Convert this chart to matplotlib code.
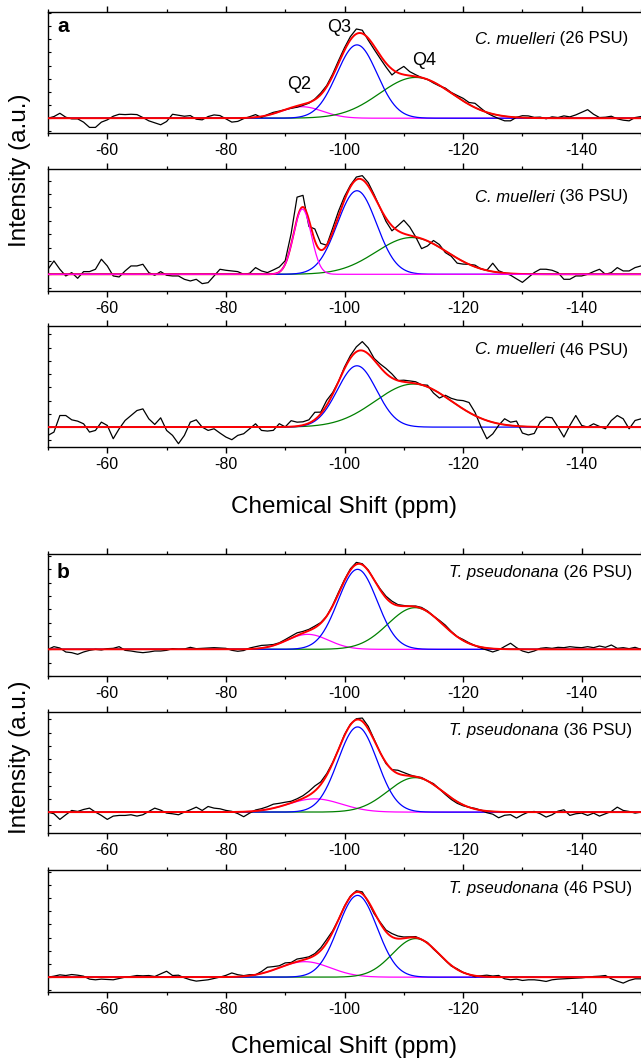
import numpy as np
import matplotlib
matplotlib.use("Agg")
import matplotlib.pyplot as plt
from matplotlib.ticker import MultipleLocator

plt.rcParams['font.family'] = ['Liberation Sans', 'DejaVu Sans']

# ---------------- data ----------------
# chemical shift sampling of the measured spectra (ppm)
ppm = np.arange(-50, -151, -1)

# fitted Gaussian components: [center (ppm), amplitude (a.u.), sigma (ppm)]
a1_q2 = [-92.8, 35, 3.5]
a1_q3 = [-102.1, 223, 3.4]
a1_q4 = [-112.0, 124, 6.1]
a2_q2 = [-92.9, 195, 1.5]
a2_q3 = [-102.1, 250, 3.3]
a2_q4 = [-111.3, 110, 6.0]
a3_q3 = [-102.1, 185, 3.3]
a3_q4 = [-111.6, 130, 6.4]
b1_q2 = [-93.8, 45, 3.5]
b1_q3 = [-102.2, 240, 3.3]
b1_q4 = [-111.9, 125, 4.6]
b2_q2 = [-95.0, 40, 4.5]
b2_q3 = [-102.2, 257, 3.3]
b2_q4 = [-111.9, 104, 4.6]
b3_q2 = [-93.3, 47, 4.3]
b3_q3 = [-102.2, 248, 3.3]
b3_q4 = [-112.0, 117, 3.9]

# measured spectrum minus total fit, read at each ppm of `ppm` (a.u.)
a1_res = [0, 5, 15, 3, -2, -2, -12, -28, -28, -12, -5, 6, 12, 11, 12, 11, 2, -8, -14, -20,
          -10, 12, 9, 6, 8, -3, -5, 5, 10, 8, -2, -12, -10, -2, 3, 8, -3, 2, 4, 2,
          0, -2, -4, -3, -2, 2, 5, 4, 6, 8, 8, 10, 15, 10, -6, -10, -10, -12, -18, 8,
          25, 12, 5, 0, 0, -3, -2, 3, 2, 5, 8, 6, 13, 6, -2, -6, -10, -14, -12, 0,
          6, 6, 2, 3, -2, 4, 2, 7, 4, 10, 18, 26, 12, 2, 3, 6, -2, -6, -8, 2, 5]
a2_res = [15, 40, 15, -5, 5, -12, 8, 8, 15, 45, 25, -5, -8, 10, 25, 25, 30, 5, -3, 8,
          -3, -5, -5, -15, -20, -15, -28, -25, -5, 15, 12, 10, 8, 0, 3, 20, 10, 5, 12, 15,
          10, 33, 65, 35, -20, 35, 20, 0, 12, 15, 10, 5, 8, 12, 10, 5, 0, -10, -15, 15,
          40, 25, 0, -30, -15, 10, 8, -5, -5, -15, -8, 0, 5, 0, 0, 25, 5, 0, -5, -15,
          -25, -10, 5, 15, 15, 12, 5, -15, -15, -5, -5, 0, 8, 15, 0, 5, 20, 10, 10, 20, 25]
a3_res = [-25, -15, 35, 35, 22, 18, 10, -15, -10, 15, 5, -35, -5, 20, 35, 50, 55, 25, 8, 28,
          -10, -25, -50, -25, 15, 22, 0, -10, -5, -18, -30, -38, -25, -20, -5, 10, -10, -12, -10, 10,
          0, 18, 12, 10, 10, 22, 5, 15, 5, 0, 5, 8, 15, 27, 18, 5, 10, 15, 12, 0,
          5, 5, 5, 0, 5, -10, -15, 5, 8, 15, 25, 30, 10, -25, -55, -35, -5, 18, 10, 15,
          -20, -25, -20, 15, 30, 28, 0, -30, 5, 35, 5, 0, 10, 2, -5, 20, 35, 25, -5, 20, 25]
b1_res = [0, 8, 4, -8, -10, -15, -8, -3, 0, -2, 2, 3, 8, -3, -5, -8, -10, -8, -5, -5,
          -3, 2, 0, 1, 6, 2, 3, 4, 5, 4, 3, -3, -6, -4, 3, 6, 8, 6, 3, 2,
          4, 6, 8, 5, 4, 5, 2, 0, 2, 4, 3, 4, 6, 3, 2, 0, 3, 5, 6, 3,
          2, 0, 2, 3, 2, 0, 3, 5, 2, 0, 3, 2, 0, -3, -6, -10, -3, 8, 18, 5,
          -5, -10, -5, 3, 5, 3, 6, 5, 8, 6, 5, 8, 5, 10, 6, 13, 3, 5, 2, 6, 0]
b2_res = [0, -5, -22, -8, 5, 2, 8, 12, 0, -10, -22, -12, -10, -10, -8, -12, -8, 2, 12, 6,
          -3, -5, -8, 0, 7, 15, 5, 17, 12, 10, 5, 2, -5, -15, -5, 3, 5, 8, 12, 10,
          8, 5, 6, 8, 12, 15, 8, 5, 2, 0, 3, 2, 3, 10, 8, 3, 0, -3, 0, 10,
          8, 3, 0, 2, 0, 3, 0, -3, -5, -5, -3, 0, 2, 0, -5, -8, -18, -10, -8, -18,
          -8, 0, 2, -5, -15, -8, 3, 7, -10, -5, -3, -10, -3, -12, -5, 2, 15, 5, 2, -3, 0]
b3_res = [0, 3, 7, 5, 8, 6, 3, -6, -8, -6, -7, -8, -4, 0, 2, 5, 4, 5, 2, 10,
          18, 5, 6, -2, -8, -12, -10, -8, -4, 0, 5, 12, 6, 2, 3, 0, 6, 14, 10, 6,
          8, 3, 8, 6, 4, 5, 8, 10, 4, 0, 2, 2, 4, 6, -2, -5, 3, 5, 10, 8,
          4, 2, 3, 0, 2, -2, 0, 0, -2, 2, 0, 0, -3, 2, 5, 3, 5, -5, -8, -6,
          -10, -8, -8, -10, -13, -8, -6, -5, -4, -3, -2, 0, 2, 3, 5, -5, -12, -18, -10, -5, -5]

# intensity window shown in each panel (a.u., baseline = 0)
a1_ylim = [-45, 323]
a2_ylim = [-50, 315]
a3_ylim = [-60, 305]
b1_ylim = [-80, 286]
b2_ylim = [-63, 302]
b3_ylim = [-45, 325]

species_a = "C. muelleri"
species_b = "T. pseudonana"
salinity = ["26 PSU", "36 PSU", "46 PSU"]
xticks_major = [-60, -80, -100, -120, -140]

# ---------------- drawing ----------------
W, H = 641, 1061
fig = plt.figure(figsize=(W / 100, H / 100), dpi=100)
renderer = fig.canvas.get_renderer()

def gauss(x, p):
    c, a, s = p
    return a * np.exp(-(x - c) ** 2 / (2 * s ** 2))

panels = [
    # (top px, bottom px, comps, residual, ylim, species, salinity idx, label centre px)
    (12, 133, [a1_q2, a1_q3, a1_q4], a1_res, a1_ylim, species_a, 0, 39),
    (169, 291, [a2_q2, a2_q3, a2_q4], a2_res, a2_ylim, species_a, 1, 197),
    (326, 447, [None, a3_q3, a3_q4], a3_res, a3_ylim, species_a, 2, 350),
    (554, 676, [b1_q2, b1_q3, b1_q4], b1_res, b1_ylim, species_b, 0, 573),
    (712, 833, [b2_q2, b2_q3, b2_q4], b2_res, b2_ylim, species_b, 1, 730),
    (870, 992, [b3_q2, b3_q3, b3_q4], b3_res, b3_ylim, species_b, 2, 888),
]

xf = np.linspace(-50, -150, 1001)
left_px, right_px = 48, 641
axes = []
for i, (top, bot, comps, res, ylim, sp, si, lab_c) in enumerate(panels):
    ax = fig.add_axes([left_px / W, 1 - bot / H, (right_px - left_px) / W, (bot - top) / H])
    axes.append(ax)
    total_f = np.zeros_like(xf)
    total_s = np.zeros(len(ppm), dtype=float)
    for p in comps:
        if p is not None:
            total_f += gauss(xf, p)
            total_s += gauss(ppm, p)
    spectrum = total_s + np.array(res, dtype=float)
    q2, q3, q4 = comps
    if q2 is not None:
        ax.plot(xf, gauss(xf, q2), color='#ff00ff', lw=0.9, zorder=2 if i != 1 else 6)
    ax.plot(xf, gauss(xf, q4), color='#008000', lw=0.9, zorder=2)
    ax.plot(xf, gauss(xf, q3), color='#0000ff', lw=0.9, zorder=3)
    ax.plot(ppm, spectrum, color='black', lw=0.9, zorder=4, solid_joinstyle='round')
    ax.plot(xf, total_f, color='#ff0000', lw=1.4, zorder=5)
    ax.set_xlim(-50, -150)
    ax.set_ylim(*ylim)
    ax.spines['right'].set_visible(False)
    for s in ['left', 'top', 'bottom']:
        ax.spines[s].set_linewidth(1.0)
    ax.set_xticks(xticks_major)
    ax.set_xticklabels([str(t) for t in xticks_major])
    ax.xaxis.set_minor_locator(MultipleLocator(10))
    ax.tick_params(axis='x', which='major', direction='out', length=4.5, width=1.0,
                   labelsize=11.5, pad=3, top=True)
    ax.tick_params(axis='x', which='minor', direction='out', length=2.5, width=0.9, top=True)
    ax.yaxis.set_major_locator(MultipleLocator(40))
    ax.tick_params(axis='y', which='major', direction='in', length=2.0, width=0.8,
                   labelleft=False, right=False)
    # species label: italic name followed by upright salinity
    yb = 1 - (lab_c + 4.5 - top) / (bot - top)
    xr = 0.985 if i >= 3 else 0.978
    t2 = ax.text(xr, yb, " (" + salinity[si] + ")", transform=ax.transAxes,
                 ha='right', va='baseline', fontsize=12)
    bb = t2.get_window_extent(renderer=renderer)
    x_it = ax.transAxes.inverted().transform((bb.x0, bb.y0))[0]
    ax.text(x_it, yb, sp, transform=ax.transAxes, ha='right', va='baseline',
            fontsize=12, style='italic')

axes[0].text(0.015, 0.88, "a", transform=axes[0].transAxes, fontsize=15,
             fontweight='bold', ha='left', va='center')
axes[3].text(0.015, 0.845, "b", transform=axes[3].transAxes, fontsize=15,
             fontweight='bold', ha='left', va='center')
axes[0].text(-92.4, 101, "Q2", fontsize=13, ha='center', va='center')
axes[0].text(-99.1, 276, "Q3", fontsize=13, ha='center', va='center')
axes[0].text(-113.4, 176, "Q4", fontsize=13, ha='center', va='center')

fig.text(20 / W, 1 - 170 / H, "Intensity (a.u.)", rotation=90, fontsize=17.5,
         ha='center', va='center')
fig.text(20 / W, 1 - 757 / H, "Intensity (a.u.)", rotation=90, fontsize=17.5,
         ha='center', va='center')
fig.text(344 / W, 1 - 507 / H, "Chemical Shift (ppm)", fontsize=17.5, ha='center', va='center')
fig.text(344 / W, 1 - 1047 / H, "Chemical Shift (ppm)", fontsize=17.5, ha='center', va='center')

fig.savefig("out.png", dpi=100)
